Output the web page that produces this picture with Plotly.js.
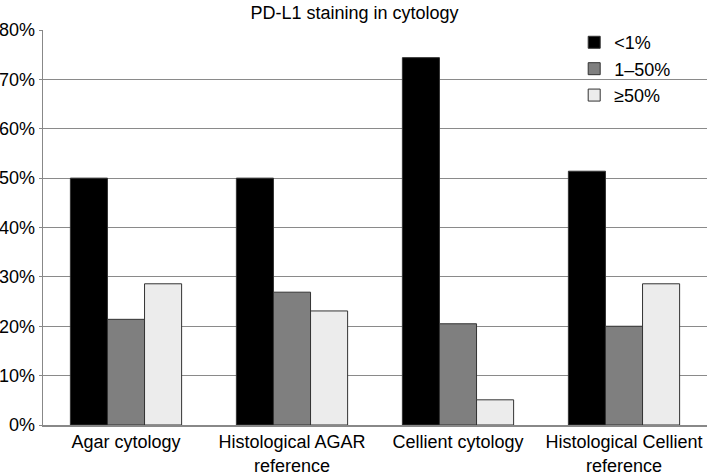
<!DOCTYPE html>
<html>
<head>
<meta charset="utf-8">
<script src="https://cdn.plot.ly/plotly-3.0.1.min.js"></script>
<style>html,body{margin:0;padding:0;background:#fff}#chart{width:709px;height:476px}</style>
</head>
<body>
<div id="chart"></div>
<script>
const categories = ["Agar cytology", "Histological AGAR<br>reference", "Cellient cytology", "Histological Cellient<br>reference"];
const seriesNames = ["<1%", "1\u201350%", "\u226550%"];
const lowValues = [50.0, 50.0, 74.4, 51.4];
const midValues = [21.4, 26.9, 20.5, 20.0];
const highValues = [28.6, 23.1, 5.1, 28.6];
const seriesColors = ["#000000", "#7f7f7f", "#ececec"];

const allValues = [lowValues, midValues, highValues];
const traces = allValues.map((vals, i) => ({
  type: "bar",
  name: seriesNames[i],
  x: categories,
  y: vals,
  legendgroup: "g" + i,
  marker: { color: seriesColors[i], line: { color: "#333333", width: 1 } },
  hoverinfo: "skip"
}));

const layout = {
  width: 709, height: 476,
  margin: { l: 43, r: 2, t: 30, b: 51 },
  paper_bgcolor: "#ffffff", plot_bgcolor: "#ffffff",
  font: { family: "Liberation Sans, Arial, sans-serif", size: 17, color: "#000000" },
  title: { text: "PD-L1 staining in cytology", font: { size: 18, color: "#000" }, x: 0.5, xanchor: "center", y: 0.973, yanchor: "middle", yref: "container" },
  barmode: "group", bargap: 0.33, bargroupgap: 0,
  xaxis: {
    showgrid: false, showline: true, linecolor: "#888888", linewidth: 1.5,
    ticks: "", tickfont: { size: 18 }, ticklabelstandoff: 0, fixedrange: true
  },
  yaxis: {
    range: [0, 80], dtick: 10, ticksuffix: "%",
    showgrid: true, gridcolor: "#8a8a8a", gridwidth: 1.2,
    showline: true, linecolor: "#888888", linewidth: 1.5,
    ticks: "outside", ticklen: 3, tickcolor: "#888888",
    tickfont: { size: 18 }, zeroline: false, fixedrange: true
  },
  showlegend: true,
  legend: {
    x: 0.8, xanchor: "left", y: 1.015, yanchor: "top",
    bgcolor: "rgba(255,255,255,0)", borderwidth: 0,
    font: { size: 18 }, traceorder: "normal", tracegroupgap: 5
  }
};

Plotly.newPlot("chart", traces, layout, { staticPlot: true, displayModeBar: false });
</script>
</body>
</html>
